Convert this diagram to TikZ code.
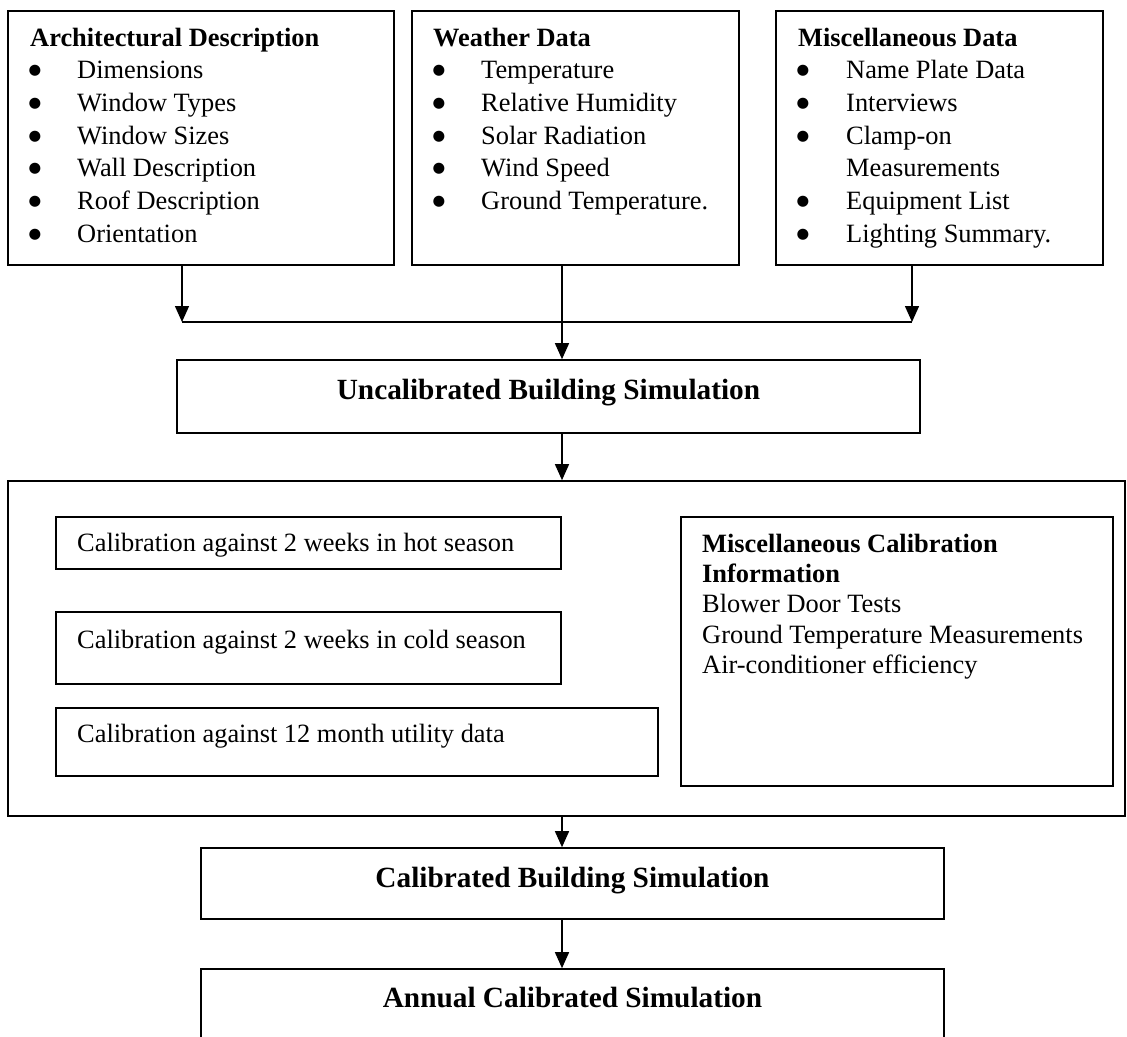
\documentclass[tikz,border=0pt]{standalone}
\usepackage{fontspec}
\setmainfont{Liberation Serif}
\newfontfamily\bulfont{DejaVu Sans}
\usetikzlibrary{arrows.meta}
\begin{document}
\begin{tikzpicture}[x=1pt,y=-1pt,
  box/.style={draw, line width=1.6pt, rectangle, inner sep=0pt},
  txt/.style={anchor=base west, inner sep=0pt, font=\fontsize{26.4pt}{32.7pt}\selectfont},
  bul/.style={anchor=base, inner sep=0pt, font=\bulfont\fontsize{14.5pt}{14.5pt}\selectfont},
  ttl/.style={anchor=base west, inner sep=0pt, font=\fontsize{26.4pt}{32.7pt}\selectfont\bfseries},
  stitle/.style={anchor=base, inner sep=0pt, font=\fontsize{29.3pt}{35pt}\selectfont\bfseries},
  conn/.style={line width=1.4pt},
  arr/.style={conn, -{Triangle[length=16pt,width=14pt]}}
]
\useasboundingbox (0,0) rectangle (1127,1036);
\clip (0,0) rectangle (1127,1036);

% boxes
\node[box, minimum width=386pt, minimum height=254pt] (A) at (201,138) {};
\node[box, minimum width=327pt, minimum height=254pt] (W) at (575.5,138) {};
\node[box, minimum width=327pt, minimum height=254pt] (M) at (939.5,138) {};
\node[box, minimum width=743pt, minimum height=73pt] (U) at (548.5,396.5) {};
\node[box, minimum width=1117pt, minimum height=335pt] (cal) at (566.5,648.5) {};
\node[box, minimum width=505pt, minimum height=52pt] (hot) at (308.5,543) {};
\node[box, minimum width=505pt, minimum height=72pt] (cold) at (308.5,648) {};
\node[box, minimum width=602pt, minimum height=68pt] (util) at (357,742) {};
\node[box, minimum width=432pt, minimum height=269pt] (misc) at (897,651.5) {};
\node[box, minimum width=743pt, minimum height=71pt] (C) at (572.5,883.5) {};
\node[box, minimum width=743pt, minimum height=81pt] (Ann) at (572.5,1009.5) {};

% Architectural description
\node[ttl] (tA) at (30,46) {Architectural Description};
\foreach \y/\t [count=\i] in {78.7/Dimensions,111.4/Window Types,144.1/Window Sizes,176.8/Wall Description,209.5/Roof Description,242.2/Orientation}{
  \node[bul] (bA\i) at (35,\y-4) {●};
  \node[txt] (iA\i) at (77,\y) {\t};
}
% Weather data
\node[ttl] (tW) at (433,46) {Weather Data};
\foreach \y/\t [count=\i] in {78.7/Temperature,111.4/Relative Humidity,144.1/Solar Radiation,176.8/Wind Speed,209.5/Ground Temperature.}{
  \node[bul] (bW\i) at (439,\y-4) {●};
  \node[txt] (iW\i) at (481,\y) {\t};
}
% Miscellaneous data
\node[ttl] (tM) at (798,46) {Miscellaneous Data};
\foreach \y/\t [count=\i] in {78.7/Name Plate Data,111.4/Interviews,144.1/Clamp-on,209.5/Equipment List,242.2/Lighting Summary.}{
  \node[bul] (bM\i) at (803,\y-4) {●};
  \node[txt] (iM\i) at (846,\y) {\t};
}
\node[txt] (iM0) at (846,176.8) {Measurements};

% simulation titles
\node[stitle] (tU) at (548.5,399.5) {Uncalibrated Building Simulation};
\node[stitle] (tC) at (572.5,887) {Calibrated Building Simulation};
\node[stitle] (tAnn) at (572.5,1007.5) {Annual Calibrated Simulation};

% calibration boxes
\node[txt] (thot) at (77,551) {Calibration against 2 weeks in hot season};
\node[txt] (tcold) at (77,648) {Calibration against 2 weeks in cold season};
\node[txt] (tutil) at (77,742.5) {Calibration against 12 month utility data};

\node[ttl] (tm1) at (702,552) {Miscellaneous Calibration};
\node[ttl] (tm2) at (702,582.3) {Information};
\node[txt] (tm3) at (702,612.7) {Blower Door Tests};
\node[txt] (tm4) at (702,643.3) {Ground Temperature Measurements};
\node[txt] (tm5) at (702,673.5) {Air-conditioner efficiency};

% connectors
\coordinate (jA) at (182,322);
\coordinate (jW) at (562,322);
\coordinate (jM) at (912,322);
\draw[arr] (A.south -| jA) -- (jA);
\draw[arr] (M.south -| jM) -- (jM);
\draw[conn] (jA) -- (jM);
\draw[arr] (W.south -| jW) -- (U.north -| jW);
\draw[arr] (U.south -| jW) -- (cal.north -| jW);
\draw[arr] (cal.south -| jW) -- (C.north -| jW);
\draw[arr] (C.south -| jW) -- (Ann.north -| jW);
\end{tikzpicture}
\end{document}
